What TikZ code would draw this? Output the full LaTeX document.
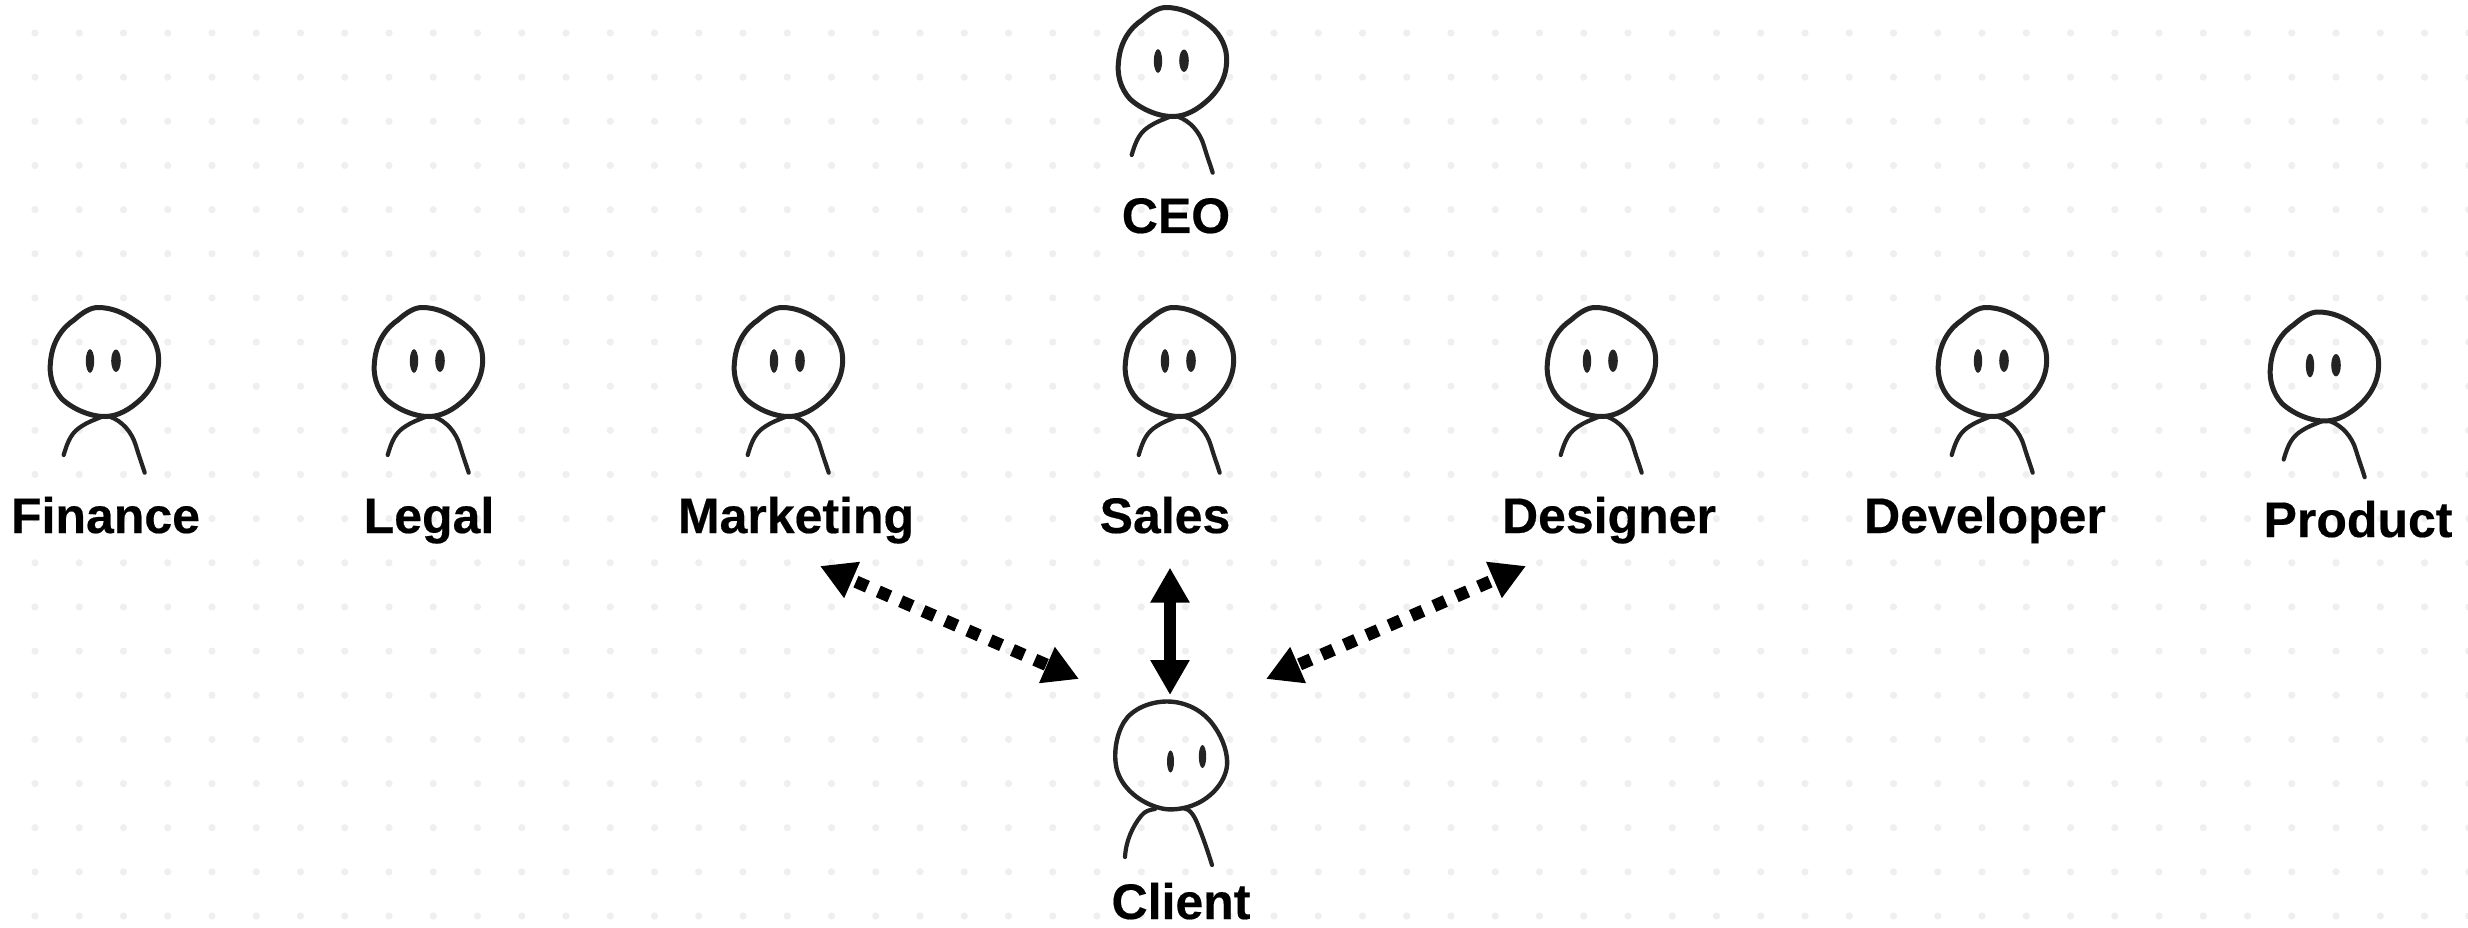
\documentclass[tikz,border=0pt]{standalone}
\usepackage{fontspec}
\setmainfont{Liberation Sans}[BoldFeatures={FakeBold=0.35}]
\usetikzlibrary{arrows.meta}
\definecolor{ink}{HTML}{242424}
\definecolor{griddot}{HTML}{EFEFEF}
\tikzset{
  griddotmark/.style={fill=griddot,draw=none},
  outline/.style={draw=ink,line width=5pt,line join=round},
  limb/.style={draw=ink,line width=4.2pt,line cap=round},
  eyemark/.style={fill=ink,draw=none},
  namelabel/.style={anchor=base,inner sep=0pt,font=\fontsize{50}{60}\selectfont\bfseries,text=black},
  bothways/.style={line width=12.5pt,draw=black,{Triangle[length=35pt,width=37pt]}-{Triangle[length=35pt,width=37pt]}},
  bothwaysdash/.style={bothways,dash pattern=on 12.5pt off 11.9pt,dash phase=18pt},
  person/.pic={
    \draw[outline] (86,7.5) .. controls (100,7.5) and (112,13) .. (122,20)
      .. controls (135,28) and (143,38) .. (146,52)
      .. controls (149,72) and (141,88) .. (128,100)
      .. controls (117,110) and (106,116) .. (94,116.5)
      .. controls (80,117) and (62,110) .. (50,99)
      .. controls (40,88) and (37,74) .. (38.5,62)
      .. controls (40,42) and (50,28) .. (62,20)
      .. controls (70,13) and (78,7.5) .. (86,7.5) -- cycle;
    \draw[limb] (51.7,155) .. controls (56,140) and (60,132) .. (70,126) .. controls (76,122) and (82,120) .. (90,116.7);
    \draw[limb] (98,116.7) .. controls (110,121) and (120,132) .. (124,146) .. controls (127,156) and (130,164) .. (132.7,172.7);
    \fill[eyemark] (78,61) ellipse[x radius=4.2pt,y radius=11.8pt];
    \fill[eyemark] (104,60.7) ellipse[x radius=4.8pt,y radius=11.2pt];
  },
  clientperson/.pic={
    \draw[outline,line width=4.4pt] (1167,701.5) .. controls (1185,701.5) and (1203,710) .. (1214,726)
      .. controls (1224,740) and (1228,755) .. (1227,766)
      .. controls (1225,782) and (1212,797) .. (1196,804)
      .. controls (1185,809) and (1170,811) .. (1160,808)
      .. controls (1140,803) and (1122,788) .. (1117,770)
      .. controls (1113,755) and (1116,735) .. (1124,722)
      .. controls (1132,709) and (1150,701.5) .. (1167,701.5) -- cycle;
    \draw[limb] (1125,857) .. controls (1126,840) and (1133,826) .. (1141,816) .. controls (1145,811) and (1149,810) .. (1155,809);
    \draw[limb] (1183,808) .. controls (1190,809) and (1194,815) .. (1198,825) .. controls (1204,840) and (1208,852) .. (1212,865);
    \fill[eyemark] (1170.5,761.5) ellipse[x radius=3.5pt,y radius=11pt];
    \fill[eyemark] (1202.5,756.5) ellipse[x radius=3.7pt,y radius=11.5pt];
  }
}
\begin{document}
\begin{tikzpicture}[x=1pt,y=-1pt]
\useasboundingbox (0,0) rectangle (2468,928);
\fill[white] (0,0) rectangle (2468,928);
\foreach \i in {0,...,55}
  \foreach \j in {0,...,20}
    \fill[griddotmark] ({35+44.25*\i},{33+44.15*\j}) circle[radius=3.6pt];

\pic (ceo) at (1080,0) {person};
\pic (finance) at (12,300) {person};
\pic (legal) at (336,300) {person};
\pic (marketing) at (696,300) {person};
\pic (sales) at (1087,300) {person};
\pic (designer) at (1509,300) {person};
\pic (developer) at (1900,300) {person};
\pic (product) at (2232,304.5) {person};
\pic (client) at (0,0) {clientperson};

\node[namelabel] (lceo) at (1176,233) {CEO};
\node[namelabel] (lfinance) at (105.5,533) {Finance};
\node[namelabel] (llegal) at (429,533) {Legal};
\node[namelabel] (lmarketing) at (796,533) {Marketing};
\node[namelabel] (lsales) at (1165,533) {Sales};
\node[namelabel] (ldesigner) at (1609,533) {Designer};
\node[namelabel] (ldeveloper) at (1985,533) {Developer};
\node[namelabel] (lproduct) at (2358,537) {Product};
\node[namelabel] (lclient) at (1181,919) {Client};

\coordinate (mtop) at (820,566);
\coordinate (mbot) at (1079,679);
\coordinate (stop) at (1170,567.6);
\coordinate (sbot) at (1170,695);
\coordinate (dtop) at (1526,566);
\coordinate (dbot) at (1266,679);

\draw[bothwaysdash] (mtop) -- (mbot);
\draw[bothways] (stop) -- (sbot);
\draw[bothwaysdash] (dtop) -- (dbot);
\end{tikzpicture}
\end{document}
